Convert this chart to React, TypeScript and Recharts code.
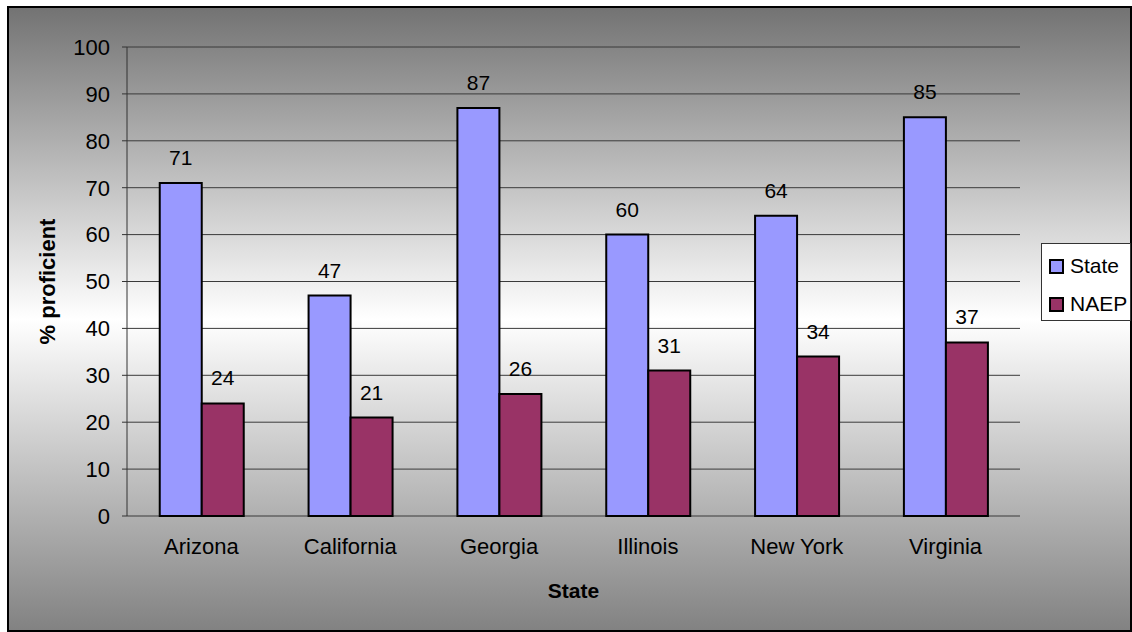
import React from "react";
import {
  BarChart,
  Bar,
  XAxis,
  YAxis,
  CartesianGrid,
  Legend,
  LabelList,
} from "recharts";

const STATES = ["Arizona", "California", "Georgia", "Illinois", "New York", "Virginia"];
const STATE_PCT = [71, 47, 87, 60, 64, 85];
const NAEP_PCT = [24, 21, 26, 31, 34, 37];
const Y_TICKS = [0, 10, 20, 30, 40, 50, 60, 70, 80, 90, 100];

const SERIES = [
  { key: "State", color: "#9999ff" },
  { key: "NAEP", color: "#993366" },
];
const FONT = "'Liberation Sans', Arial, sans-serif";

const data = STATES.map((state, i) => ({
  state,
  State: STATE_PCT[i],
  NAEP: NAEP_PCT[i],
}));

// tick marks sit on the category boundaries, not the centres
const EDGE_TICKS = [...STATES.map((_, i) => i), STATES.length];

function LegendBox() {
  return (
    <div
      style={{
        width: 90,
        height: 78,
        boxSizing: "border-box",
        background: "#fff",
        border: "1px solid #333",
        padding: "3px 0 0 7px",
        fontFamily: FONT,
        fontSize: 21,
        color: "#000",
      }}
    >
      {SERIES.map((s) => (
        <div
          key={s.key}
          style={{ display: "flex", alignItems: "center", height: 38 }}
        >
          <span
            style={{
              display: "inline-block",
              width: 11,
              height: 11,
              border: "2px solid #000",
              background: s.color,
              marginRight: 6,
            }}
          />
          <span>{s.key}</span>
        </div>
      ))}
    </div>
  );
}

export default function App() {
  return (
    <div
      style={{
        position: "absolute",
        left: 7,
        top: 6,
        width: 1125,
        height: 626,
        boxSizing: "border-box",
        border: "2px solid #000",
        background:
          "linear-gradient(to bottom, #737373 0%, #ffffff 50%, #828282 100%)",
      }}
    >
      <BarChart
        width={1121}
        height={622}
        data={data}
        margin={{ top: 39, right: 110, bottom: 30, left: 18 }}
        barCategoryGap="22%"
        barGap={0}
        style={{ fontFamily: FONT }}
      >
        <CartesianGrid vertical={false} stroke="#3a3a3a" />
        <XAxis
          xAxisId="edges"
          type="number"
          domain={[0, STATES.length]}
          ticks={EDGE_TICKS}
          allowDataOverflow
          tick={false}
          height={0}
          tickSize={6}
          stroke="#333"
        />
        <XAxis
          dataKey="state"
          interval={0}
          axisLine={false}
          tickLine={false}
          tickMargin={16}
          height={84}
          tick={{ fill: "#000", fontSize: 22 }}
          label={{
            value: "State",
            position: "insideBottom",
            offset: 2,
            fill: "#000",
            fontSize: 21,
            fontWeight: "bold",
          }}
        />
        <YAxis
          domain={[0, 100]}
          ticks={Y_TICKS}
          interval={0}
          width={100}
          tickSize={5}
          tickMargin={12}
          stroke="#333"
          tick={{ fill: "#000", fontSize: 22 }}
          label={{
            value: "% proficient",
            angle: -90,
            position: "insideLeft",
            offset: 20,
            fill: "#000",
            fontSize: 22,
            fontWeight: "bold",
            style: { textAnchor: "middle" },
          }}
        />
        <Legend
          layout="horizontal"
          verticalAlign="middle"
          align="center"
          content={<LegendBox />}
          wrapperStyle={{ left: 1032, top: 235, width: 90, height: 78 }}
        />
        {SERIES.map((s) => (
          <Bar
            key={s.key}
            dataKey={s.key}
            fill={s.color}
            stroke="#000"
            strokeWidth={2}
            isAnimationActive={false}
          >
            <LabelList
              dataKey={s.key}
              position="top"
              offset={18}
              fill="#000"
              fontSize={21}
            />
          </Bar>
        ))}
      </BarChart>
    </div>
  );
}
